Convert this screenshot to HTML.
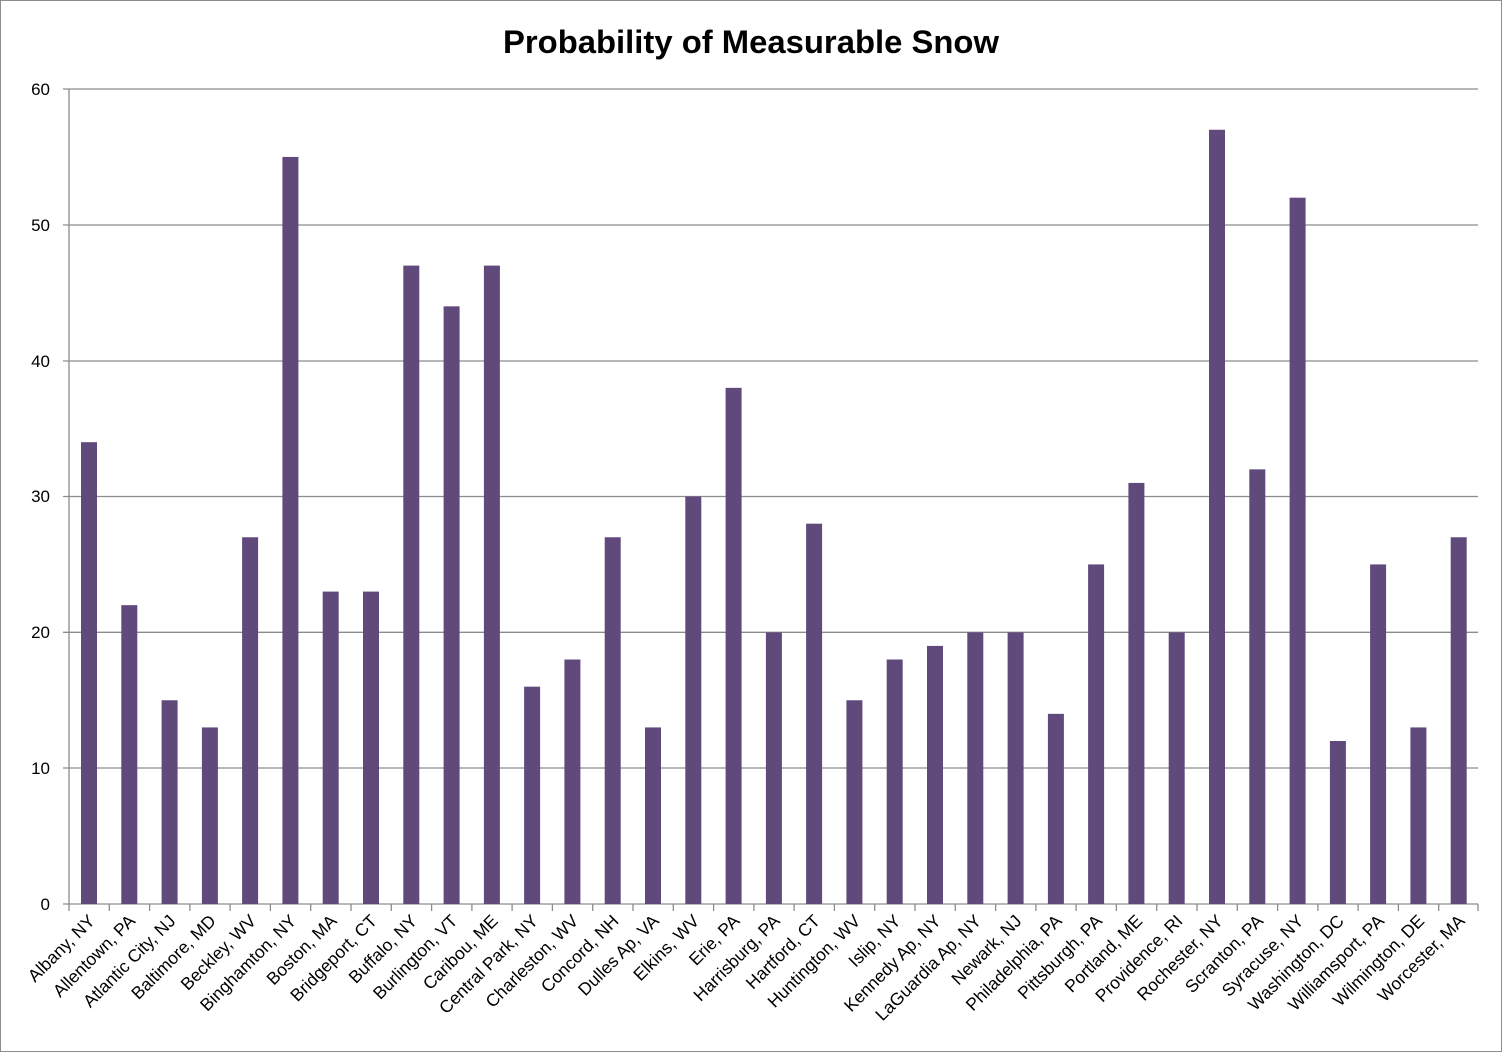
<!DOCTYPE html>
<html><head><meta charset="utf-8"><style>
html,body{margin:0;padding:0;background:#fff}
svg{display:block}
text{font-family:"Liberation Sans",sans-serif}
</style></head><body>
<svg width="1502" height="1052" viewBox="0 0 1502 1052" xmlns="http://www.w3.org/2000/svg">
<rect x="0.5" y="0.5" width="1501" height="1051" fill="#fff" stroke="#8c8c8c"/>
<text x="751" y="53" text-anchor="middle" font-size="32" font-weight="bold" fill="#000" textLength="496" lengthAdjust="spacingAndGlyphs">Probability of Measurable Snow</text>
<g stroke="#8c8c8c" stroke-width="1.3">
<line x1="63" y1="89" x2="1478" y2="89"/>
<line x1="63" y1="225" x2="1478" y2="225"/>
<line x1="63" y1="361" x2="1478" y2="361"/>
<line x1="63" y1="496.5" x2="1478" y2="496.5"/>
<line x1="63" y1="632.3" x2="1478" y2="632.3"/>
<line x1="63" y1="768" x2="1478" y2="768"/>
<line x1="63" y1="904" x2="1478" y2="904"/>
<line x1="69" y1="89" x2="69" y2="904"/>
</g>
<g font-size="17" fill="#000" text-anchor="end">
<text x="50" y="95">60</text><text x="50" y="231">50</text><text x="50" y="367">40</text>
<text x="50" y="502">30</text><text x="50" y="638">20</text><text x="50" y="774">10</text><text x="50" y="910">0</text>
</g>
<g transform="translate(0,904) scale(1,-13.583)" fill="#604a7b">
<rect x="81" y="0" width="16" height="34"/>
<rect x="121.3" y="0" width="16" height="22"/>
<rect x="161.6" y="0" width="16" height="15"/>
<rect x="201.9" y="0" width="16" height="13"/>
<rect x="242.1" y="0" width="16" height="27"/>
<rect x="282.4" y="0" width="16" height="55"/>
<rect x="322.7" y="0" width="16" height="23"/>
<rect x="363" y="0" width="16" height="23"/>
<rect x="403.3" y="0" width="16" height="47"/>
<rect x="443.6" y="0" width="16" height="44"/>
<rect x="483.9" y="0" width="16" height="47"/>
<rect x="524.1" y="0" width="16" height="16"/>
<rect x="564.4" y="0" width="16" height="18"/>
<rect x="604.7" y="0" width="16" height="27"/>
<rect x="645" y="0" width="16" height="13"/>
<rect x="685.3" y="0" width="16" height="30"/>
<rect x="725.6" y="0" width="16" height="38"/>
<rect x="765.9" y="0" width="16" height="20"/>
<rect x="806.1" y="0" width="16" height="28"/>
<rect x="846.4" y="0" width="16" height="15"/>
<rect x="886.7" y="0" width="16" height="18"/>
<rect x="927" y="0" width="16" height="19"/>
<rect x="967.3" y="0" width="16" height="20"/>
<rect x="1007.6" y="0" width="16" height="20"/>
<rect x="1047.9" y="0" width="16" height="14"/>
<rect x="1088.1" y="0" width="16" height="25"/>
<rect x="1128.4" y="0" width="16" height="31"/>
<rect x="1168.7" y="0" width="16" height="20"/>
<rect x="1209" y="0" width="16" height="57"/>
<rect x="1249.3" y="0" width="16" height="32"/>
<rect x="1289.6" y="0" width="16" height="52"/>
<rect x="1329.9" y="0" width="16" height="12"/>
<rect x="1370.1" y="0" width="16" height="25"/>
<rect x="1410.4" y="0" width="16" height="13"/>
<rect x="1450.7" y="0" width="16" height="27"/>
</g>
<g stroke="#8c8c8c" stroke-width="1.3">
<line x1="69" y1="904" x2="69" y2="911"/><line x1="109.3" y1="904" x2="109.3" y2="911"/><line x1="149.6" y1="904" x2="149.6" y2="911"/><line x1="189.9" y1="904" x2="189.9" y2="911"/><line x1="230.1" y1="904" x2="230.1" y2="911"/><line x1="270.4" y1="904" x2="270.4" y2="911"/><line x1="310.7" y1="904" x2="310.7" y2="911"/><line x1="351" y1="904" x2="351" y2="911"/><line x1="391.3" y1="904" x2="391.3" y2="911"/><line x1="431.6" y1="904" x2="431.6" y2="911"/><line x1="471.9" y1="904" x2="471.9" y2="911"/><line x1="512.1" y1="904" x2="512.1" y2="911"/><line x1="552.4" y1="904" x2="552.4" y2="911"/><line x1="592.7" y1="904" x2="592.7" y2="911"/><line x1="633" y1="904" x2="633" y2="911"/><line x1="673.3" y1="904" x2="673.3" y2="911"/><line x1="713.6" y1="904" x2="713.6" y2="911"/><line x1="753.9" y1="904" x2="753.9" y2="911"/><line x1="794.1" y1="904" x2="794.1" y2="911"/><line x1="834.4" y1="904" x2="834.4" y2="911"/><line x1="874.7" y1="904" x2="874.7" y2="911"/><line x1="915" y1="904" x2="915" y2="911"/><line x1="955.3" y1="904" x2="955.3" y2="911"/><line x1="995.6" y1="904" x2="995.6" y2="911"/><line x1="1035.9" y1="904" x2="1035.9" y2="911"/><line x1="1076.1" y1="904" x2="1076.1" y2="911"/><line x1="1116.4" y1="904" x2="1116.4" y2="911"/><line x1="1156.7" y1="904" x2="1156.7" y2="911"/><line x1="1197" y1="904" x2="1197" y2="911"/><line x1="1237.3" y1="904" x2="1237.3" y2="911"/><line x1="1277.6" y1="904" x2="1277.6" y2="911"/><line x1="1317.9" y1="904" x2="1317.9" y2="911"/><line x1="1358.1" y1="904" x2="1358.1" y2="911"/><line x1="1398.4" y1="904" x2="1398.4" y2="911"/><line x1="1438.7" y1="904" x2="1438.7" y2="911"/><line x1="1478" y1="904" x2="1478" y2="911"/>
</g>
<g font-size="17.5" fill="#000" text-anchor="end">
<text transform="translate(96,922) rotate(-45)">Albany, NY</text>
<text transform="translate(136.3,922) rotate(-45)">Allentown, PA</text>
<text transform="translate(176.6,922) rotate(-45)">Atlantic City, NJ</text>
<text transform="translate(216.9,922) rotate(-45)">Baltimore, MD</text>
<text transform="translate(257.1,922) rotate(-45)">Beckley, WV</text>
<text transform="translate(297.4,922) rotate(-45)">Binghamton, NY</text>
<text transform="translate(337.7,922) rotate(-45)">Boston, MA</text>
<text transform="translate(378,922) rotate(-45)">Bridgeport, CT</text>
<text transform="translate(418.3,922) rotate(-45)">Buffalo, NY</text>
<text transform="translate(458.6,922) rotate(-45)">Burlington, VT</text>
<text transform="translate(498.9,922) rotate(-45)">Caribou, ME</text>
<text transform="translate(539.1,922) rotate(-45)">Central Park, NY</text>
<text transform="translate(579.4,922) rotate(-45)">Charleston, WV</text>
<text transform="translate(619.7,922) rotate(-45)">Concord, NH</text>
<text transform="translate(660,922) rotate(-45)">Dulles Ap, VA</text>
<text transform="translate(700.3,922) rotate(-45)">Elkins, WV</text>
<text transform="translate(740.6,922) rotate(-45)">Erie, PA</text>
<text transform="translate(780.9,922) rotate(-45)">Harrisburg, PA</text>
<text transform="translate(821.1,922) rotate(-45)">Hartford, CT</text>
<text transform="translate(861.4,922) rotate(-45)">Huntington, WV</text>
<text transform="translate(901.7,922) rotate(-45)">Islip, NY</text>
<text transform="translate(942,922) rotate(-45)">Kennedy Ap, NY</text>
<text transform="translate(982.3,922) rotate(-45)">LaGuardia Ap, NY</text>
<text transform="translate(1022.6,922) rotate(-45)">Newark, NJ</text>
<text transform="translate(1062.9,922) rotate(-45)">Philadelphia, PA</text>
<text transform="translate(1103.1,922) rotate(-45)">Pittsburgh, PA</text>
<text transform="translate(1143.4,922) rotate(-45)">Portland, ME</text>
<text transform="translate(1183.7,922) rotate(-45)">Providence, RI</text>
<text transform="translate(1224,922) rotate(-45)">Rochester, NY</text>
<text transform="translate(1264.3,922) rotate(-45)">Scranton, PA</text>
<text transform="translate(1304.6,922) rotate(-45)">Syracuse, NY</text>
<text transform="translate(1344.9,922) rotate(-45)">Washington, DC</text>
<text transform="translate(1385.1,922) rotate(-45)">Williamsport, PA</text>
<text transform="translate(1425.4,922) rotate(-45)">Wilmington, DE</text>
<text transform="translate(1465.7,922) rotate(-45)">Worcester, MA</text>
</g>
</svg>
</body></html>
